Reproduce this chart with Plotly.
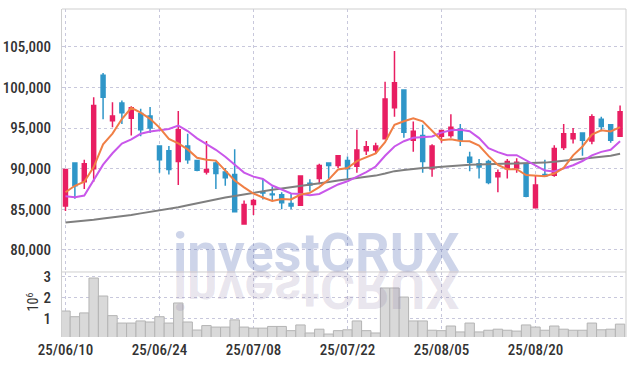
import plotly.graph_objects as go
import pandas as pd

# ---------------- data ----------------
dates = [
    "25/06/10", "25/06/11", "25/06/12", "25/06/13", "25/06/16", "25/06/17", "25/06/18", "25/06/19",
    "25/06/20", "25/06/23", "25/06/24", "25/06/25", "25/06/26", "25/06/27", "25/06/30",
    "25/07/01", "25/07/02", "25/07/03", "25/07/04", "25/07/07", "25/07/08", "25/07/09", "25/07/10",
    "25/07/11", "25/07/14", "25/07/15", "25/07/16", "25/07/17", "25/07/18", "25/07/21", "25/07/22",
    "25/07/23", "25/07/24", "25/07/25", "25/07/28", "25/07/29", "25/07/30", "25/07/31",
    "25/08/01", "25/08/04", "25/08/05", "25/08/06", "25/08/07", "25/08/08", "25/08/11", "25/08/12",
    "25/08/13", "25/08/14", "25/08/18", "25/08/19", "25/08/20", "25/08/21", "25/08/22", "25/08/25",
    "25/08/26", "25/08/27", "25/08/28", "25/08/29", "25/09/01", "25/09/02",
]

open_ = [85400, 90700, 88400, 90000, 101500, 95900, 98100, 96200, 96800, 96500,
         92800, 92200, 90900, 92800, 91000, 89600, 90700, 89600, 89300, 83200,
         85600, 87100, 86900, 86800, 85700, 85500, 88200, 88800, 90700, 90400,
         91000, 90300, 92200, 92300, 93700, 97500, 99700, 93500, 94100, 90000,
         94000, 94100, 94900, 91400, 90600, 90900, 89000, 90000, 90100, 90500,
         85200, 89300, 89200, 92600, 93700, 94400, 93400, 96100, 95400, 94000]
high = [90000, 90700, 91100, 98800, 101800, 98200, 98400, 97700, 97400, 97600,
        92900, 92800, 97100, 94300, 91100, 93400, 90900, 90100, 92400, 86100,
        86300, 88700, 87800, 87100, 87000, 89100, 88700, 90600, 90700, 91700,
        91500, 94800, 93400, 93200, 100700, 104500, 99800, 95800, 95400, 93000,
        94800, 96700, 95500, 92100, 91200, 91100, 89900, 91200, 91300, 90700,
        89100, 91100, 92900, 95500, 95000, 94400, 96700, 96400, 95500, 97800]
low = [84800, 86300, 87500, 88400, 96100, 95100, 95500, 94100, 94000, 94400,
       89500, 89300, 88000, 90600, 89700, 89300, 87500, 87900, 84700, 83100,
       84300, 86200, 86000, 85000, 85000, 85400, 87200, 88100, 88600, 90100,
       88600, 89500, 91700, 91800, 93700, 96400, 93800, 92100, 89500, 89000,
       93200, 93800, 92800, 89700, 88800, 88100, 87100, 88800, 89500, 86500,
       85200, 89000, 89000, 92300, 93100, 91600, 93000, 94600, 93200, 94000]
close = [89900, 87900, 90600, 97800, 98800, 96500, 96900, 97500, 94800, 95000,
         91100, 89900, 94800, 91100, 89800, 89900, 89400, 88900, 84700, 85600,
         86100, 87000, 86800, 85800, 85400, 89100, 88000, 90400, 90400, 91600,
         90000, 92300, 92700, 92800, 98600, 100600, 94500, 94600, 90900, 92800,
         94700, 95100, 93500, 90800, 90200, 88300, 89500, 90900, 90800, 86600,
         88000, 89100, 92500, 94300, 94300, 93500, 96400, 95200, 93500, 97000]
volume = [1360000, 1090000, 1270000, 2920000, 2070000, 1140000, 790000, 790000, 890000, 840000,
          1090000, 790000, 1740000, 840000, 460000, 670000, 600000, 600000, 940000, 600000,
          550000, 550000, 630000, 630000, 430000, 700000, 320000, 500000, 270000, 430000,
          470000, 890000, 430000, 320000, 2450000, 2450000, 2020000, 890000, 890000, 450000,
          430000, 650000, 370000, 790000, 370000, 450000, 500000, 450000, 410000, 700000,
          600000, 450000, 650000, 500000, 450000, 450000, 790000, 470000, 500000, 740000]

# first points of the moving averages need earlier history
ma5_head = [87100, 87900, 88400, 90200]
ma10_head = [86600, 86500, 86700, 88650, 90500, 91900, 93100, 93600, 94300]
# long moving average (grey)
ma_long = [83390, 83480, 83570, 83720, 83880, 84000, 84130, 84300, 84500, 84680,
           84860, 85080, 85250, 85500, 85750, 86000, 86250, 86450, 86650, 86850,
           87050, 87200, 87400, 87550, 87700, 87850, 88000, 88150, 88350, 88550,
           88700, 88850, 88950, 89150, 89400, 89700, 89850, 90000, 90100, 90150,
           90250, 90350, 90450, 90500, 90520, 90550, 90570, 90580, 90600, 90620,
           90680, 90750, 90870, 91000, 91120, 91220, 91350, 91450, 91600, 91830]

price_ticks = [80000, 85000, 90000, 95000, 100000, 105000]
price_tick_labels = ["80,000", "85,000", "90,000", "95,000", "100,000", "105,000"]
vol_ticks = [1000000, 2000000, 3000000]
vol_tick_labels = ["1", "2", "3"]
x_tick_labels = dates[::10]

# ---------------- derived ----------------
cs = pd.Series(close, dtype=float)
ma5 = cs.rolling(5).mean().tolist()
ma5[:len(ma5_head)] = ma5_head
ma10 = cs.rolling(10).mean().tolist()
ma10[:len(ma10_head)] = ma10_head

UP = "#e81e62"
DOWN = "#2f96c8"
FONT = "Roboto, sans-serif"
GRID = "#c8c8dc"
BORDER = "#cfcfcf"
VOL_TOP = 0.1982

fig = go.Figure()
fig.add_trace(go.Bar(
    x=dates, y=volume, yaxis="y2", xaxis="x",
    marker=dict(color="#d9d9d9", line=dict(color="#b4b4b4", width=1)),
    showlegend=False,
))
fig.add_trace(go.Scatter(x=dates, y=ma_long, mode="lines", yaxis="y",
                         line=dict(color="#7f7f7f", width=2), showlegend=False))
fig.add_trace(go.Scatter(x=dates, y=ma10, mode="lines", yaxis="y",
                         line=dict(color="#c957ea", width=2), showlegend=False))
fig.add_trace(go.Scatter(x=dates, y=ma5, mode="lines", yaxis="y",
                         line=dict(color="#f07f45", width=2), showlegend=False))
fig.add_trace(go.Candlestick(
    x=dates, open=open_, high=high, low=low, close=close, yaxis="y",
    increasing=dict(line=dict(color=UP, width=1.5), fillcolor=UP),
    decreasing=dict(line=dict(color=DOWN, width=1.5), fillcolor=DOWN),
    whiskerwidth=0, showlegend=False,
))

tickfont = dict(family=FONT, size=15, color="#333333", weight=500)

fig.update_layout(
    width=634, height=366, autosize=False,
    margin=dict(l=62, r=8, t=9, b=29, pad=0),
    paper_bgcolor="white", plot_bgcolor="white",
    hovermode=False, bargap=0, boxgap=0.4,
    xaxis=dict(
        type="category", range=[-0.37, 59.63], anchor="y2", automargin=False,
        tickmode="array", tickvals=x_tick_labels, ticktext=x_tick_labels,
        showgrid=True, gridcolor=GRID, griddash="dot", gridwidth=1,
        ticks="", tickfont=tickfont, ticklabelstandoff=2,
        rangeslider=dict(visible=False), showline=False, zeroline=False,
    ),
    yaxis=dict(
        domain=[VOL_TOP, 1], range=[77280, 109670], automargin=False,
        tickmode="array", tickvals=price_ticks, ticktext=price_tick_labels,
        showgrid=True, gridcolor=GRID, griddash="dot", gridwidth=1,
        ticks="", tickfont=tickfont, ticklabelstandoff=7,
        showline=True, linecolor=BORDER, linewidth=1, zeroline=False,
    ),
    yaxis2=dict(
        domain=[0, VOL_TOP], range=[130000, 3206000], automargin=False,
        tickmode="array", tickvals=vol_ticks, ticktext=vol_tick_labels,
        showgrid=True, gridcolor=GRID, griddash="dot", gridwidth=1,
        ticks="", tickfont=tickfont, ticklabelstandoff=7,
        showline=True, linecolor=BORDER, linewidth=1, zeroline=False,
    ),
    shapes=[
        dict(type="line", xref="paper", yref="paper", x0=0, x1=1, y0=1, y1=1,
             line=dict(color=BORDER, width=1)),
        dict(type="line", xref="paper", yref="paper", x0=0, x1=1, y0=VOL_TOP, y1=VOL_TOP,
             line=dict(color=BORDER, width=1)),
        dict(type="line", xref="paper", yref="paper", x0=1, x1=1, y0=0, y1=1,
             line=dict(color=BORDER, width=1)),
    ],
    annotations=[
        dict(text="<b>investCRUX</b>", xref="paper", yref="paper", x=0.4504, y=0.157,
             xanchor="center", yanchor="bottom", showarrow=False,
             font=dict(family="Roboto, Liberation Sans, sans-serif", size=54,
                       color="rgba(60,90,170,0.26)")),
        dict(text="<b>investCRUX</b>", xref="paper", yref="paper", x=0.4504, y=0.157,
             xanchor="center", yanchor="bottom", showarrow=False,
             font=dict(family="Roboto, Liberation Sans, sans-serif", size=54,
                       color="rgba(120,100,150,0.17)")),
        dict(text="10<sup>6</sup>", xref="paper", yref="paper", x=-0.053, y=0.108,
             xanchor="center", yanchor="middle", showarrow=False, textangle=-90,
             font=dict(family=FONT, size=14, color="#333333")),
    ],
)

post_js = """
var gd = document.getElementById('{plot_id}');
var css = document.createElement('style');
css.textContent = 'html, body { margin: 0 !important; padding: 0 !important; } ' +
  '.modebar-container { display: none !important; } ' +
  '.xtick text, .ytick text, .y2tick text, .annotation[data-index="2"] text { font-stretch: condensed; }';
document.head.appendChild(css);
function flipReflection() {
  var t = gd.querySelector('.annotation[data-index="1"] text.annotation-text');
  if (t) {
    var y = parseFloat(t.getAttribute('y'));
    if (isNaN(y)) { var bb = t.getBBox(); y = bb.y + bb.height * 0.79; }
    t.setAttribute('transform', 'translate(0,' + (2 * y) + ') scale(1,-1)');
  }
}
flipReflection();
if (gd.on) { gd.on('plotly_afterplot', flipReflection); }
"""

fig.write_html("out.html", post_script=post_js,
               config={"displayModeBar": False, "staticPlot": True})
